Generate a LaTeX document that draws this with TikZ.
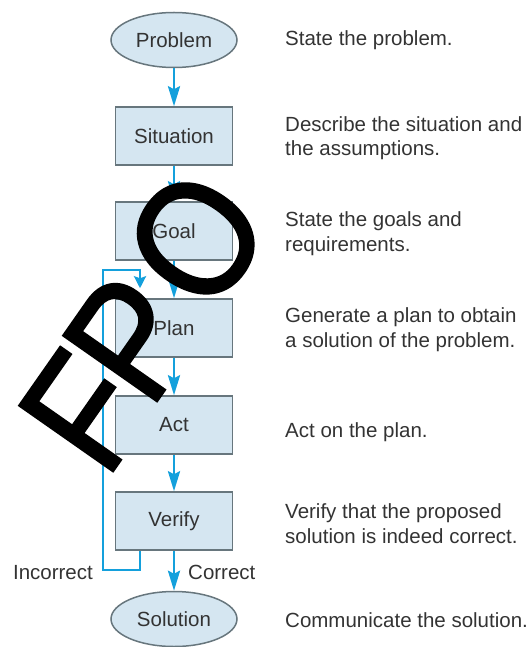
\documentclass[tikz,border=0pt]{standalone}
\usepackage{fontspec}
\setmainfont{Liberation Sans}
\newfontfamily\fpofont[FakeStretch=0.88,FakeBold=1.5]{Liberation Sans}
\usetikzlibrary{shapes.geometric,arrows.meta}
\definecolor{boxfill}{HTML}{D5E6F1}
\definecolor{boxline}{HTML}{67767D}
\definecolor{flowblue}{HTML}{14A0DC}
\definecolor{txt}{HTML}{333333}
\begin{document}
\begin{tikzpicture}[x=1pt,y=-1pt,
  every node/.style={font=\fontsize{20.5}{24.5}\selectfont, text=txt},
  stepbox/.style={draw=boxline, line width=1.5pt, fill=boxfill,
    minimum width=117pt, minimum height=58pt, inner sep=0pt},
  termbox/.style={ellipse, draw=boxline, line width=1.5pt, fill=boxfill,
    minimum width=126pt, minimum height=55pt, inner sep=0pt},
  flow/.style={draw=flowblue, line width=2.8pt,
    -{Stealth[length=20pt,width=12pt,inset=3pt]}},
  loopline/.style={draw=flowblue, line width=2.6pt,
    -{Stealth[length=12pt,width=12pt,inset=2pt]}},
  desc/.style={anchor=base west, align=left, inner sep=0pt},
  tag/.style={inner sep=0pt},
  stamp/.style={rotate=55, anchor=base west, inner sep=0pt, text=black,
    font=\fpofont\fontsize{166}{166}\selectfont},
]
\useasboundingbox (0,0) rectangle (529,647);

% flow chart boxes
\node[termbox] (problem)   at (174,40)  {Problem};
\node[stepbox] (situation) at (174,136) {Situation};
\node[stepbox] (goal)      at (174,231) {Goal};
\node[stepbox] (plan)      at (174,328) {Plan};
\node[stepbox] (act)       at (174,425) {Act};
\node[stepbox] (verify)    at (174,521) {Verify};
\node[termbox] (solution)  at (174,619) {Solution};

% main flow
\draw[flow] (problem)   -- (situation);
\draw[flow] (situation) -- (goal);
\draw[flow] (goal)      -- (plan);
\draw[flow] (plan)      -- (act);
\draw[flow] (act)       -- (verify);
\draw[flow] (verify)    -- (solution);

% feedback loop back to planning
\coordinate (lb) at (103,570);
\coordinate (lt) at (103,270);
\draw[loopline] ([xshift=-34pt]verify.south) |- (lb) -- (lt)
  -| ([xshift=-34pt,yshift=10pt]plan.north);

\node[tag, anchor=base east] (incorrect) at (93,579) {Incorrect};
\node[tag, anchor=base west] (correct)   at (188,579) {Correct};

% step descriptions (base anchor sits on the last line)
\node[desc] (d1) at (285,46)  {State the problem.};
\node[desc] (d2) at (285,156) {Describe the situation and\\the assumptions.};
\node[desc] (d3) at (285,251) {State the goals and\\requirements.};
\node[desc] (d4) at (285,347) {Generate a plan to obtain\\a solution of the problem.};
\node[desc] (d5) at (285,437) {Act on the plan.};
\node[desc] (d6) at (285,543) {Verify that the proposed\\solution is indeed correct.};
\node[desc] (d7) at (285,627) {Communicate the solution.};

% placeholder stamp, one letter at a time
\node[stamp] (fpoF) at (106,481) {F};
\node[stamp] (fpoP) at (150,411) {P};
\node[stamp] (fpoO) at (210,318) {O};
\end{tikzpicture}
\end{document}
